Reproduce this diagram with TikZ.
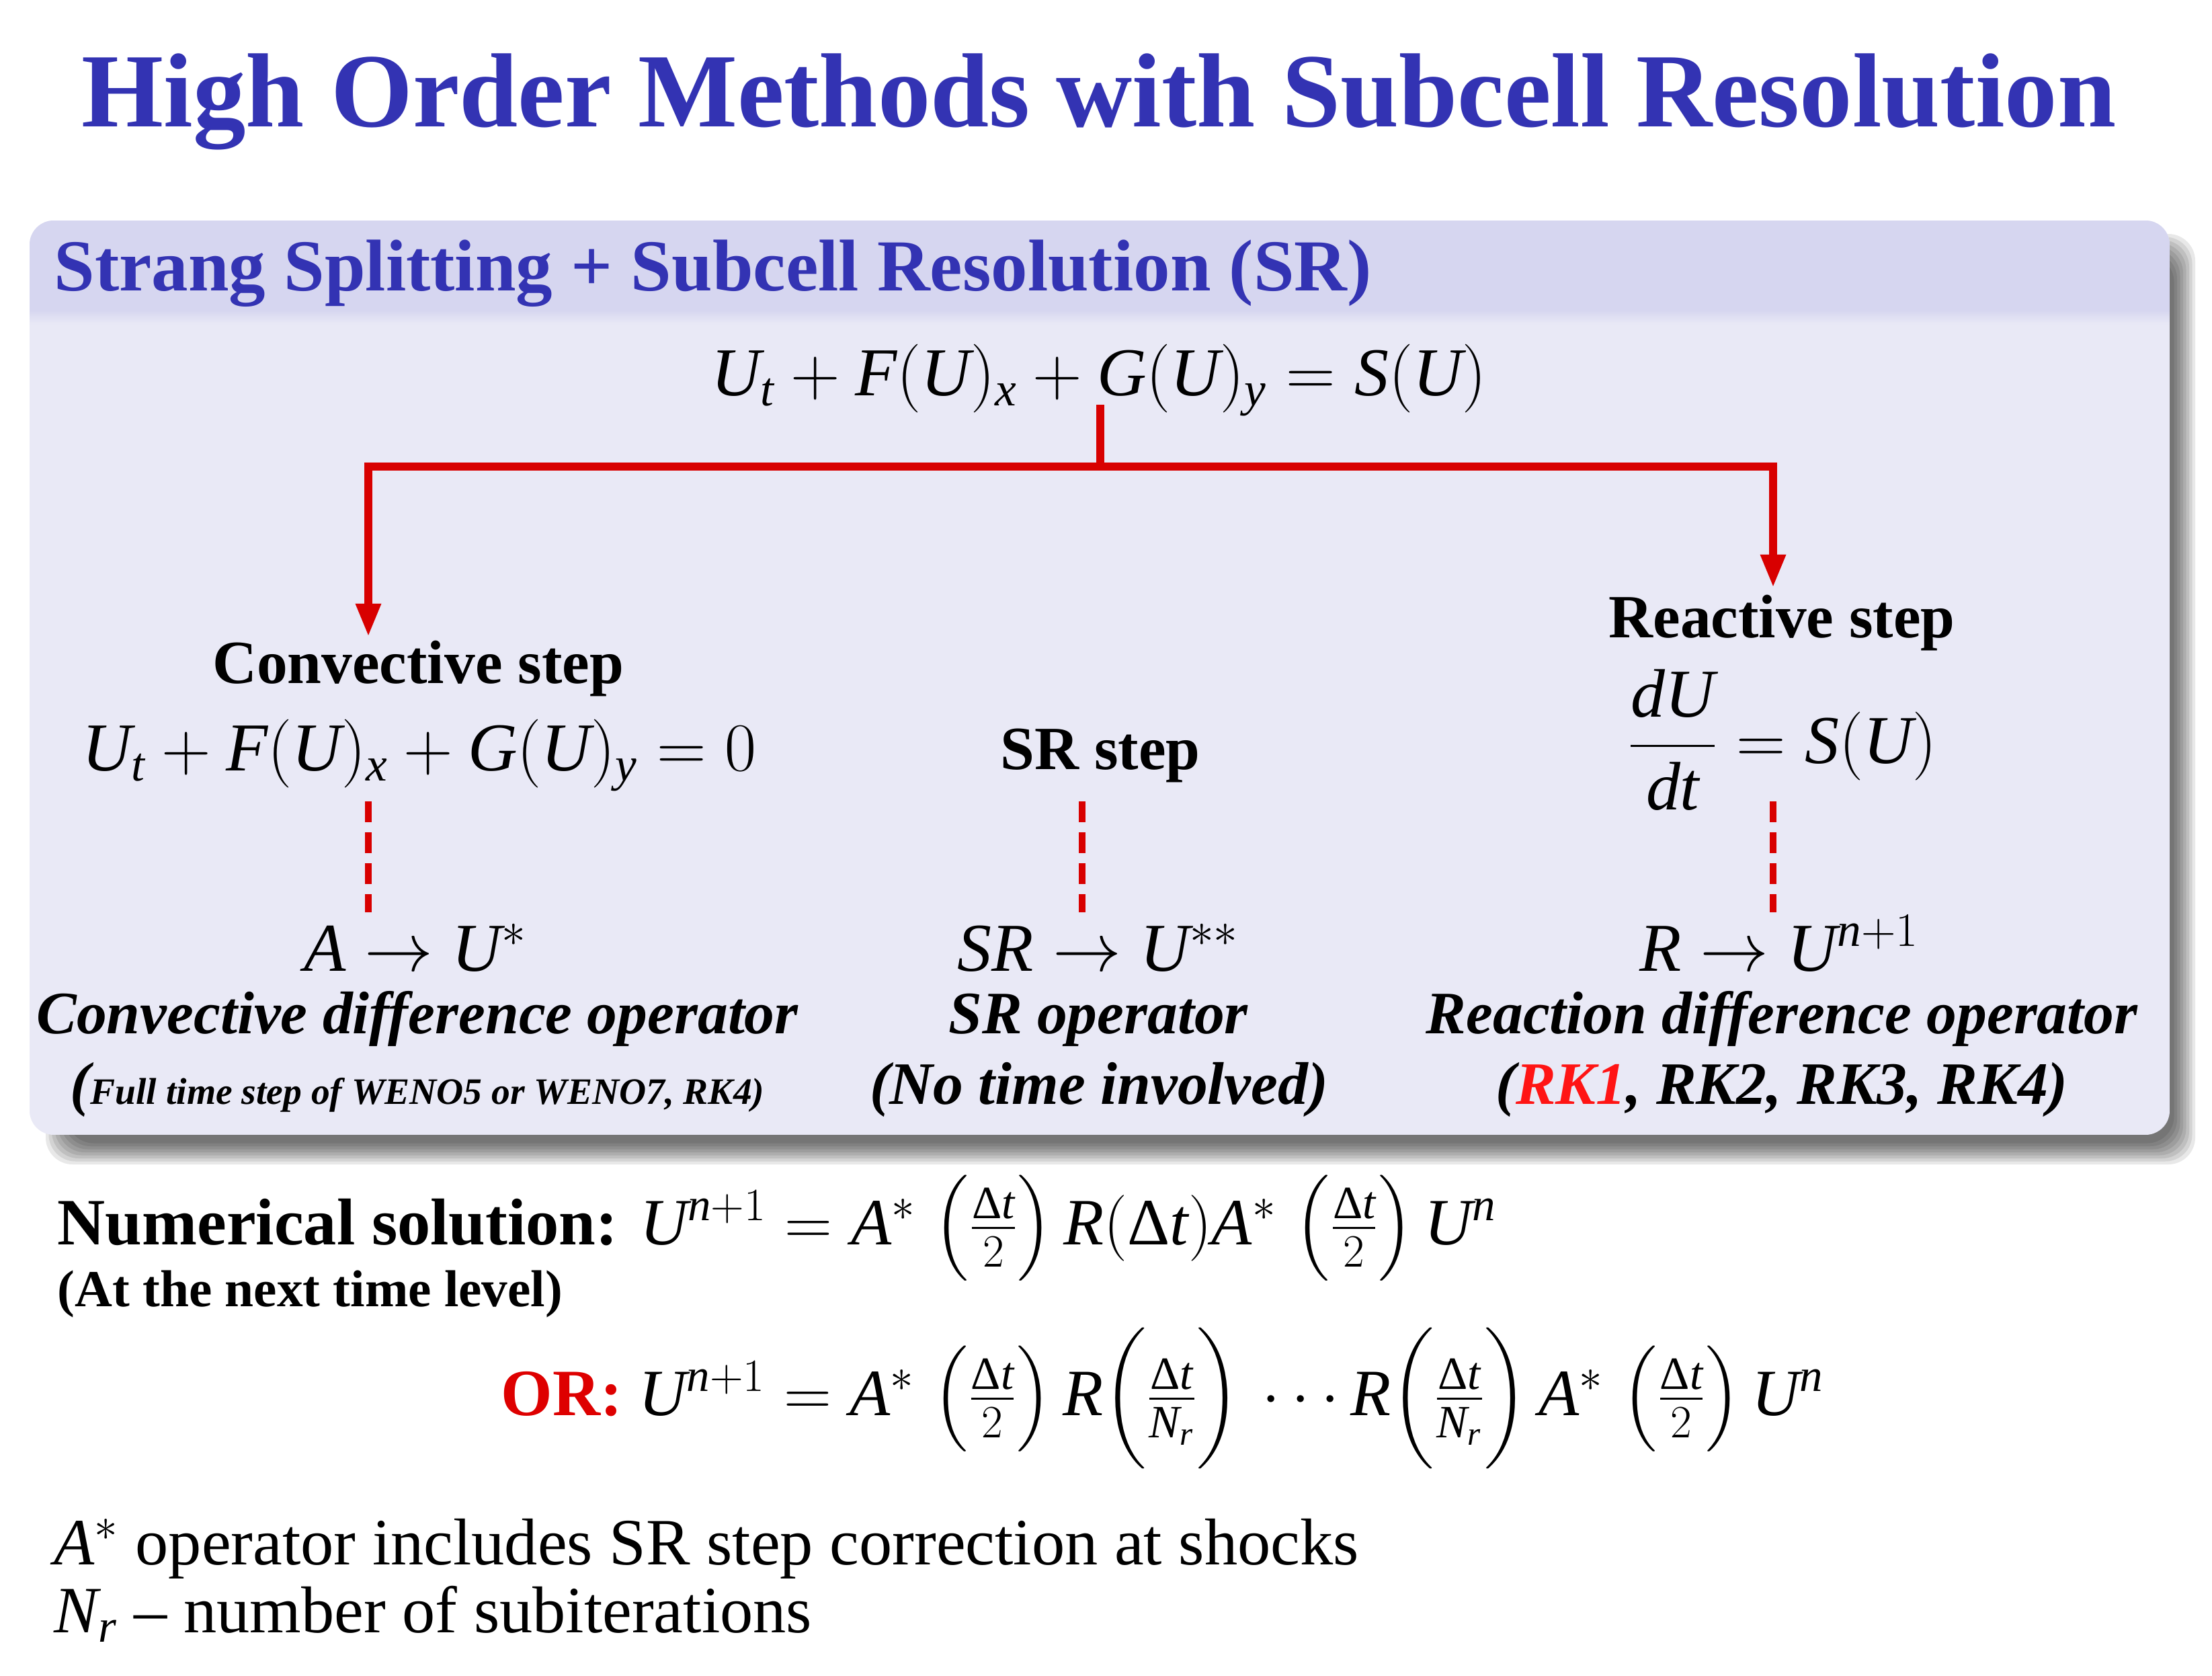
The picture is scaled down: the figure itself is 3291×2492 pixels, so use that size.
\RequirePackage{fix-cm}
\documentclass[tikz,border=0pt]{standalone}
\usepackage{amsmath}
\usepackage{fontspec}
\setmainfont{Liberation Serif}[NFSSFamily=libser]
\DeclareSymbolFont{letters}{TU}{libser}{m}{it}
\DeclareSymbolFont{operators}{TU}{libser}{m}{n}
\usetikzlibrary{arrows.meta}
\newcommand\setfs[1]{\fontsize{#1}{#1}\selectfont}
\newcommand\dlt{\text{\normalfont\upshape Δ}}
\definecolor{titleblue}{RGB}{51,51,179}
\definecolor{linered}{RGB}{216,0,0}
\definecolor{rkred}{RGB}{255,20,20}
\definecolor{orred}{RGB}{222,0,0}
\definecolor{hdrfill}{RGB}{214,214,240}
\definecolor{bodyfill}{RGB}{233,233,246}
\tikzset{
  redline/.style={draw=linered, line width=3.3pt},
  redarrow/.style={redline, -{Triangle[length=14pt,width=10pt]}},
  reddash/.style={draw=linered, line width=3.1pt, dash pattern=on 8.8pt off 4.3pt},
  lbl/.style={inner sep=0pt, anchor=base},
  lblw/.style={inner sep=0pt, anchor=base west},
}
\begin{document}
\begin{tikzpicture}[x=0.1mm, y=-0.1mm]
\useasboundingbox (0,0) rectangle (3291,2492);
\fill[white] (0,0) rectangle (3291,2492);

% shadow
\foreach \k in {0,...,7}{
  \pgfmathsetmacro\dd{-16+4.5*\k}
  \fill[black, fill opacity=0.09, rounded corners=4mm] ({84+\dd},{364+\dd}) rectangle ({3250-\dd},{1716-\dd});
}
% box
\begin{scope}
  \clip[rounded corners=3.6mm] (44,328) rectangle (3228,1688);
  \fill[bodyfill] (44,328) rectangle (3228,1688);
  \fill[hdrfill] (44,328) rectangle (3228,463);
  \foreach \k in {0,...,9}{
    \pgfmathtruncatemacro\pc{95-10*\k}
    \fill[hdrfill!\pc!bodyfill] (44,{462+2*\k}) rectangle (3228,{464.5+2*\k});
  }
\end{scope}

% texts
\node[lbl, text=titleblue] (title) at (1635,189) {\setfs{44.6}\bfseries High Order Methods with Subcell Resolution};
\node[lblw, text=titleblue] (hdr) at (80,432) {\setfs{31}\bfseries Strang Splitting + Subcell Resolution (SR)};
\node[lbl] (eqtop) at (1635,588) {\setfs{29}$U_t+F(U)_x+G(U)_y=S(U)$};

\node[lbl] (convstep) at (622,1016) {\setfs{26}\bfseries Convective step};
\node[lbl] (conveq) at (624,1146) {\setfs{29}$U_t+F(U)_x+G(U)_y=0$};
\node[lbl] (srstep) at (1637,1144) {\setfs{26}\bfseries SR step};
\node[lbl] (reactstep) at (2651,948) {\setfs{26}\bfseries Reactive step};
\node[lbl] (reacteq) at (2652,1135) {\setfs{29}$\dfrac{dU}{dt}=S(U)$};

\node[lbl] (aop) at (618,1444) {\setfs{29}$A\rightarrow U^*$};
\node[lbl] (srop) at (1634,1444) {\setfs{29}$SR\rightarrow U^{**}$};
\node[lbl] (rop) at (2647,1444) {\setfs{29}$R\rightarrow U^{n+1}$};

\node[lbl] (convname) at (621,1537) {\setfs{25.5}\bfseries\itshape Convective difference operator};
\node[lbl] (srname) at (1634,1537) {\setfs{25.5}\bfseries\itshape SR operator};
\node[lbl] (rname) at (2651,1537) {\setfs{25.5}\bfseries\itshape Reaction difference operator};

\node[lbl] (convnote) at (621,1642) {\setfs{25.5}\bfseries\itshape ({\setfs{15.8}Full time step of WENO5 or WENO7, RK4)}};
\node[lbl] (srnote) at (1635,1642) {\setfs{25.5}\bfseries\itshape (No time involved)};
\node[lbl] (rnote) at (2651,1642) {\setfs{25.5}\bfseries\itshape (\textcolor{rkred}{RK1}, RK2, RK3, RK4)};

\node[lblw] (numsol) at (85,1851) {\setfs{28}\textbf{Numerical solution:} $U^{n+1}=A^*\;\bigl(\tfrac{\dlt t}{2}\bigr)\,R(\dlt t)A^*\;\bigl(\tfrac{\dlt t}{2}\bigr)\,U^n$};
\node[lblw] (nextlvl) at (85,1943) {\setfs{22}\bfseries (At the next time level)};
\node[lblw] (orline) at (745,2105) {\setfs{28}\textcolor{orred}{\textbf{OR:}} $U^{n+1}=A^*\;\bigl(\tfrac{\dlt t}{2}\bigr)\,R\Bigl(\tfrac{\dlt t}{N_r}\Bigr)\,\cdots R\Bigl(\tfrac{\dlt t}{N_r}\Bigr)\,A^*\;\bigl(\tfrac{\dlt t}{2}\bigr)\,U^n$};
\node[lblw] (anote) at (80,2327) {\setfs{28}$A^*$ operator includes SR step correction at shocks};
\node[lblw] (nnote) at (80,2428) {\setfs{28}$N_r$ -- number of subiterations};

% connectors
\coordinate (stem) at (1637,602);
\coordinate (junction) at (1637,694);
\coordinate (lturn) at (548,694);
\coordinate (rturn) at (2638,694);
\coordinate (ltip) at (548,947);
\coordinate (rtip) at (2638,874);
\draw[redline] (stem) -- (junction);
\draw[redarrow] (junction) -- (lturn) -- (ltip);
\draw[redarrow] (junction) -- (rturn) -- (rtip);

\coordinate (ld1) at (548,1192);  \coordinate (ld2) at (548,1357);
\coordinate (md1) at (1610,1192); \coordinate (md2) at (1610,1357);
\coordinate (rd1) at (2638,1192); \coordinate (rd2) at (2638,1357);
\draw[reddash] (ld1) -- (ld2);
\draw[reddash] (md1) -- (md2);
\draw[reddash] (rd1) -- (rd2);
\end{tikzpicture}
\end{document}
